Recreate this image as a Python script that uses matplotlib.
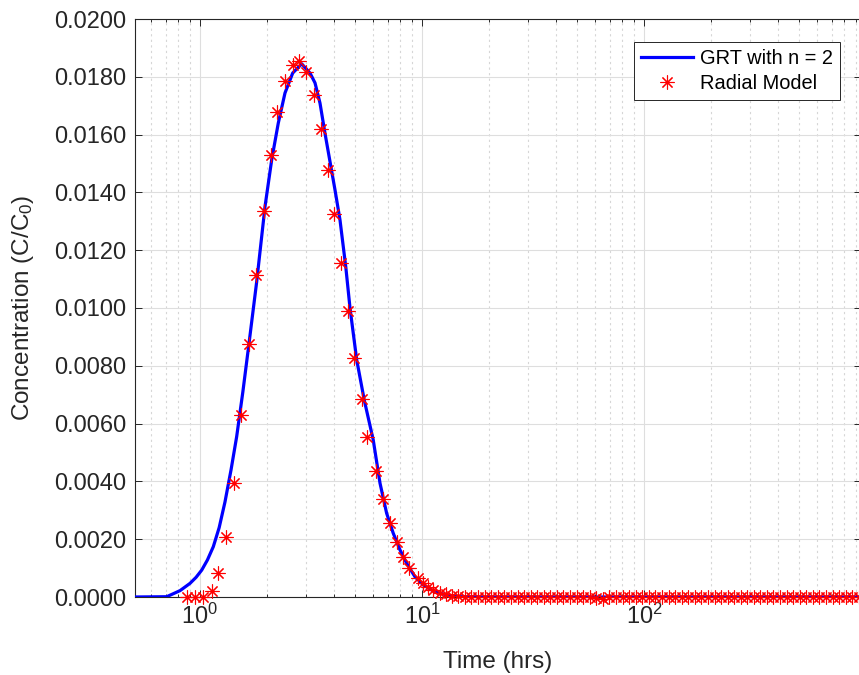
import matplotlib
matplotlib.use('Agg')
import matplotlib.pyplot as plt
from matplotlib.ticker import MultipleLocator, FormatStrFormatter, LogLocator, NullFormatter

plt.rcParams['font.family'] = ['Liberation Sans', 'DejaVu Sans']
plt.rcParams['mathtext.fontset'] = 'custom'
plt.rcParams['mathtext.rm'] = 'Liberation Sans'
plt.rcParams['mathtext.it'] = 'Liberation Sans:italic'

# GRT (n = 2) curve
grt_t = [0.5, 0.708, 0.813, 0.901, 0.96, 1.018, 1.08, 1.148, 1.22, 1.296, 1.38, 1.463, 1.56,
         1.663, 1.80, 1.963, 2.104, 2.253, 2.415, 2.616, 2.872, 3.13, 3.297, 3.472, 3.656,
         3.851, 4.056, 4.272, 4.54, 4.74, 5.08, 5.50, 6.03, 6.47, 6.93, 7.42, 7.96, 8.53,
         9.30, 10.14, 11.06, 12.05, 13.37, 14.83, 20.0, 50.0, 100.0, 500.0, 950.0]
grt_c = [0.0, 0.00001, 0.00022, 0.00047, 0.00068, 0.00093, 0.00128, 0.00174, 0.00240, 0.00329,
         0.00440, 0.00555, 0.00710, 0.00878, 0.0109, 0.01351, 0.01513, 0.01640, 0.01744,
         0.01813, 0.01845, 0.01813, 0.01779, 0.01709, 0.01605, 0.01507, 0.01409, 0.01305,
         0.0114, 0.0100, 0.00821, 0.0068, 0.00544, 0.00394, 0.00290, 0.00221, 0.00163,
         0.00117, 0.00070, 0.00042, 0.00024, 0.00013, 0.00005, 0.00001, 0.0, 0.0, 0.0, 0.0, 0.0]

# Radial model points
radial_t = [0.877, 0.949, 1.035, 1.129, 1.209, 1.310, 1.423, 1.533, 1.663, 1.797, 1.949, 2.083,
            2.223, 2.415, 2.615, 2.802, 3.002, 3.252, 3.508, 3.760, 4.027, 4.316, 4.656, 4.955,
            5.35, 5.67, 6.19, 6.65, 7.18, 7.69, 8.23, 8.74, 9.57, 10.13, 10.67, 11.24, 12.05,
            12.83, 13.61,
            14.6, 15.6, 16.7, 17.9, 19.2, 20.5, 22.0, 23.5, 25.2, 27.0, 28.9, 30.9, 33.1,
            35.4, 37.9, 40.6, 43.4, 46.5, 49.8, 53.3, 57.0, 61.0, 65.3, 69.9, 74.8, 80.1,
            85.7, 91.7, 98.2, 105, 112, 120, 129, 138, 148, 158, 169, 181, 194, 208, 222,
            238, 255, 273, 292, 312, 334, 358, 383, 410, 439, 470, 503, 538, 576, 617, 660,
            707, 756, 810, 867, 928]
radial_c = [0.0, 0.0, 0.00001, 0.00021, 0.00082, 0.00209, 0.00395, 0.00631, 0.00876, 0.01114,
            0.01337, 0.01530, 0.01677, 0.01784, 0.01842, 0.01853, 0.01816, 0.01738, 0.01620,
            0.01478, 0.01326, 0.01157, 0.00991, 0.00826, 0.00684, 0.00552, 0.00436, 0.00338,
            0.00255, 0.00191, 0.00140, 0.00099, 0.00067, 0.00048, 0.00036, 0.00024, 0.00015,
            0.00009, 0.00004,
            0.00002, 0.00001, 0.0, 0.0, 0.0, 0.0, 0.0, 0.0, 0.0, 0.0, 0.0, 0.0, 0.0,
            0.0, 0.0, 0.0, 0.0, 0.0, 0.0, 0.0, 0.0, -0.00003, -0.00008, 0.0, 0.0, 0.0,
            0.0, 0.0, 0.0, 0.0, 0.0, 0.0, 0.0, 0.0, 0.0, 0.0, 0.0, 0.0, 0.0, 0.0, 0.0,
            0.0, 0.0, 0.0, 0.0, 0.0, 0.0, 0.0, 0.0, 0.0, 0.0, 0.0, 0.0, 0.0, 0.0, 0.0, 0.0,
            0.0, 0.0, 0.0, 0.0, 0.0]

fig = plt.figure(figsize=(8.59, 6.75), dpi=100)
ax = fig.add_axes([135 / 859, 1 - 597 / 675, 726 / 859, 578 / 675])

ax.plot(grt_t, grt_c, color='#0000ff', lw=2.3, label='GRT with n = 2', zorder=3)
ax.plot(radial_t, radial_c, ls='none', marker=(8, 2, 0), ms=10, mew=0.8,
        color='#ff0000', label='Radial Model', zorder=4, clip_on=False)

ax.set_xscale('log')
ax.set_xlim(0.5096, 950)
ax.set_ylim(0, 0.02)
ax.yaxis.set_major_locator(MultipleLocator(0.002))
ax.yaxis.set_major_formatter(FormatStrFormatter('%.4f'))
ax.xaxis.set_major_locator(LogLocator(base=10, numticks=10))
ax.xaxis.set_minor_locator(LogLocator(base=10, subs=range(2, 10), numticks=20))
ax.xaxis.set_minor_formatter(NullFormatter())

ax.grid(True, which='major', color='#dedede', lw=0.8, ls='-')
ax.grid(True, which='minor', axis='x', color='#d6d6d6', lw=0.8, ls=(0, (2, 3)))
ax.set_axisbelow(True)

ax.tick_params(which='both', direction='in', top=True, right=True, colors='#262626',
               labelsize=17, width=0.7)
ax.tick_params(which='major', length=5)
ax.tick_params(which='minor', length=2.5)
ax.tick_params(axis='y', pad=6)
ax.tick_params(axis='x', pad=5)
for s in ax.spines.values():
    s.set_color('#262626')
    s.set_linewidth(0.8)

ax.set_xlabel('Time (hrs)', fontsize=17.5, color='#262626', labelpad=16)
ax.set_ylabel('Concentration (C/C$_0$)', fontsize=17.5, color='#262626', labelpad=13)

leg = ax.legend(loc='upper right', bbox_to_anchor=(0.9706, 0.9607), borderaxespad=0,
                fontsize=14.4, handlelength=2.6, labelspacing=0.3, borderpad=0.35,
                handletextpad=0.35, fancybox=False, framealpha=1, edgecolor='#262626')
leg.get_frame().set_linewidth(0.7)

fig.savefig('out.png', dpi=100)
